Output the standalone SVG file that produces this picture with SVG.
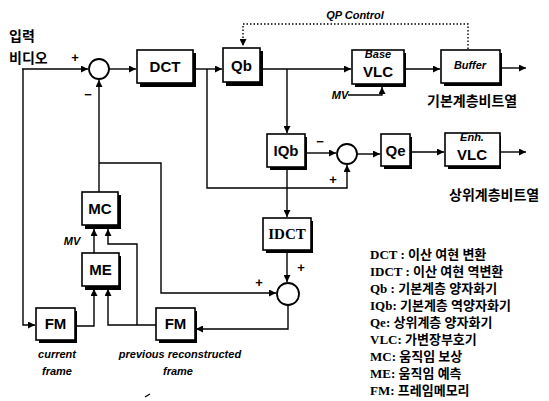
<svg xmlns="http://www.w3.org/2000/svg" width="549" height="401" viewBox="0 0 549 401">
<defs>
<marker id="ah" viewBox="0 0 10 10" refX="10" refY="5" markerWidth="7" markerHeight="7" markerUnits="userSpaceOnUse" orient="auto">
<path d="M0,0 L10,5 L0,10 z" fill="#000"/>
</marker>
</defs>
<style>
.box{fill:#fff;stroke:#000;stroke-width:1.6}
.sh{fill:#000}
.ln{fill:none;stroke:#000;stroke-width:1.4}
.dot{fill:none;stroke:#000;stroke-width:1.4;stroke-dasharray:1.5 2}
.sum{fill:#fff;stroke:#000;stroke-width:1.8}
.lb{font-family:"Liberation Sans",Arial,sans-serif;font-weight:bold;font-size:15px;text-anchor:middle}
.lbs{font-family:"Liberation Serif","Times New Roman",serif;font-weight:bold;font-size:15px;text-anchor:middle}
.it{font-family:"Liberation Sans",Arial,sans-serif;font-weight:bold;font-style:italic;font-size:11px;text-anchor:middle}
.kr{font-family:"Liberation Sans","Noto Sans CJK KR",sans-serif;font-weight:bold;font-size:14px}
.sg{font-family:"Liberation Sans",Arial,sans-serif;font-weight:bold;font-size:13px;text-anchor:middle}
.lg{font-family:"Liberation Serif","Noto Sans CJK KR",serif;font-weight:bold;font-size:13px}
</style>

<g id="connectors">
<path class="ln" d="M22,69 H88" marker-end="url(#ah)"/>
<path class="ln" d="M109,69 H136" marker-end="url(#ah)"/>
<path class="ln" d="M194,69 H222" marker-end="url(#ah)"/>
<path class="ln" d="M207,69 V188 H347 V165" marker-end="url(#ah)"/>
<path class="ln" d="M261,69 H351" marker-end="url(#ah)"/>
<path class="ln" d="M287,69 V133" marker-end="url(#ah)"/>
<path class="ln" d="M405,69 H440" marker-end="url(#ah)"/>
<path class="ln" d="M501,68 H526" marker-end="url(#ah)"/>
<path class="dot" d="M468,49 V24 H243 V46" marker-end="url(#ah)"/>
<path class="ln" d="M348,95 H382 V87" marker-end="url(#ah)"/>
<path class="ln" d="M305,153 H336" marker-end="url(#ah)"/>
<path class="ln" d="M357,154 H380" marker-end="url(#ah)"/>
<path class="ln" d="M410,152 H444" marker-end="url(#ah)"/>
<path class="ln" d="M501,152 H526" marker-end="url(#ah)"/>
<path class="ln" d="M287,167 V217" marker-end="url(#ah)"/>
<path class="ln" d="M287,251 V282" marker-end="url(#ah)"/>
<path class="ln" d="M99,192 V80" marker-end="url(#ah)"/>
<path class="ln" d="M99,163 H161 V293 H276" marker-end="url(#ah)"/>
<path class="ln" d="M288,305 V329 H196" marker-end="url(#ah)"/>
<path class="ln" d="M23,69 V325 H35" marker-end="url(#ah)"/>
<path class="ln" d="M75,326 H94 V289" marker-end="url(#ah)"/>
<path class="ln" d="M94,253 V229" marker-end="url(#ah)"/>
<path class="ln" d="M156,325 H108 V289" marker-end="url(#ah)"/>
<path class="ln" d="M137,325 V244 H108 V229" marker-end="url(#ah)"/>
</g>

<g id="sum1"><circle class="sum" cx="99" cy="69" r="10"/></g>
<g id="sum2"><circle class="sum" cx="347" cy="154" r="10"/></g>
<g id="sum3"><circle class="sum" cx="288" cy="294" r="11"/></g>

<g id="dct"><rect class="sh" x="140" y="53" width="56" height="34"/><rect class="box" x="137" y="50" width="56" height="33"/><text class="lb" x="165" y="72">DCT</text></g>
<g id="qb"><rect class="sh" x="226" y="51" width="37" height="35"/><rect class="box" x="223" y="48" width="37" height="34"/><text class="lb" x="241.5" y="71">Qb</text></g>
<g id="basevlc"><rect class="sh" x="355" y="53" width="51" height="34"/><rect class="box" x="352" y="50" width="52" height="34"/><text class="it" x="378" y="58" font-size="9" font-style="normal">Base</text><text class="lb" x="378" y="77">VLC</text></g>
<g id="buffer"><rect class="sh" x="444" y="53" width="58" height="33"/><rect class="box" x="441" y="50" width="59" height="33"/><text class="it" x="470" y="69">Buffer</text></g>
<g id="iqb"><rect class="sh" x="270" y="137" width="37" height="33"/><rect class="box" x="267" y="134" width="38" height="33"/><text class="lb" x="286" y="156">IQb</text></g>
<g id="qe"><rect class="sh" x="384" y="137" width="28" height="32"/><rect class="box" x="381" y="134" width="29" height="32"/><text class="lb" x="395.5" y="156">Qe</text></g>
<g id="enhvlc"><rect class="sh" x="448" y="136" width="53" height="33"/><rect class="box" x="445" y="133" width="55" height="33"/><text class="it" x="472" y="141" font-size="9" font-style="normal">Enh.</text><text class="lb" x="472" y="160">VLC</text></g>
<g id="idct"><rect class="sh" x="266" y="221" width="47" height="32"/><rect class="box" x="263" y="218" width="48" height="32"/><text class="lbs" x="287" y="239">IDCT</text></g>
<g id="mc"><rect class="sh" x="85" y="195" width="36" height="34"/><rect class="box" x="82" y="192" width="36" height="33"/><text class="lb" x="100" y="214">MC</text></g>
<g id="me"><rect class="sh" x="85" y="256" width="36" height="34"/><rect class="box" x="82" y="253" width="37" height="33"/><text class="lb" x="100.5" y="275">ME</text></g>
<g id="fm1"><rect class="sh" x="39" y="311" width="38" height="32"/><rect class="box" x="36" y="308" width="39" height="32"/><text class="lb" x="55.5" y="329">FM</text></g>
<g id="fm2"><rect class="sh" x="159" y="311" width="38" height="32"/><rect class="box" x="156" y="308" width="39" height="32"/><text class="lb" x="175.5" y="329">FM</text></g>

<g id="labels">
<text class="kr" x="9" y="41">입력</text>
<text class="kr" x="9" y="63">비디오</text>
<text class="sg" x="75" y="62">+</text>
<text class="sg" x="88" y="99">−</text>
<text class="sg" x="320" y="146">−</text>
<text class="sg" x="333" y="184">+</text>
<text class="sg" x="301" y="272">+</text>
<text class="sg" x="259" y="287">+</text>
<text class="it" x="355" y="19" font-size="12">QP Control</text>
<text class="it" x="340" y="99" font-size="12">MV</text>
<text class="it" x="72" y="245" font-size="12">MV</text>
<text class="kr" x="427" y="106" font-size="15">기본계층비트열</text>
<text class="kr" x="449" y="200" font-size="15">상위계층비트열</text>
<text class="it" x="57" y="358">current</text>
<text class="it" x="57" y="375">frame</text>
<text class="it" x="180" y="358">previous reconstructed</text>
<text class="it" x="178" y="375">frame</text>
<path class="ln" d="M145,397 L150,394" stroke-width="1.2"/>
</g>

<g id="legend">
<text class="lg" x="370" y="259">DCT : 이산 여현 변환</text>
<text class="lg" x="370" y="276">IDCT : 이산 여현 역변환</text>
<text class="lg" x="370" y="293">Qb : 기본계층 양자화기</text>
<text class="lg" x="370" y="310">IQb: 기본계층 역양자화기</text>
<text class="lg" x="370" y="327">Qe: 상위계층 양자화기</text>
<text class="lg" x="370" y="344">VLC: 가변장부호기</text>
<text class="lg" x="370" y="361">MC: 움직임 보상</text>
<text class="lg" x="370" y="378">ME: 움직임 예측</text>
<text class="lg" x="370" y="395">FM: 프레임메모리</text>
</g>
</svg>
